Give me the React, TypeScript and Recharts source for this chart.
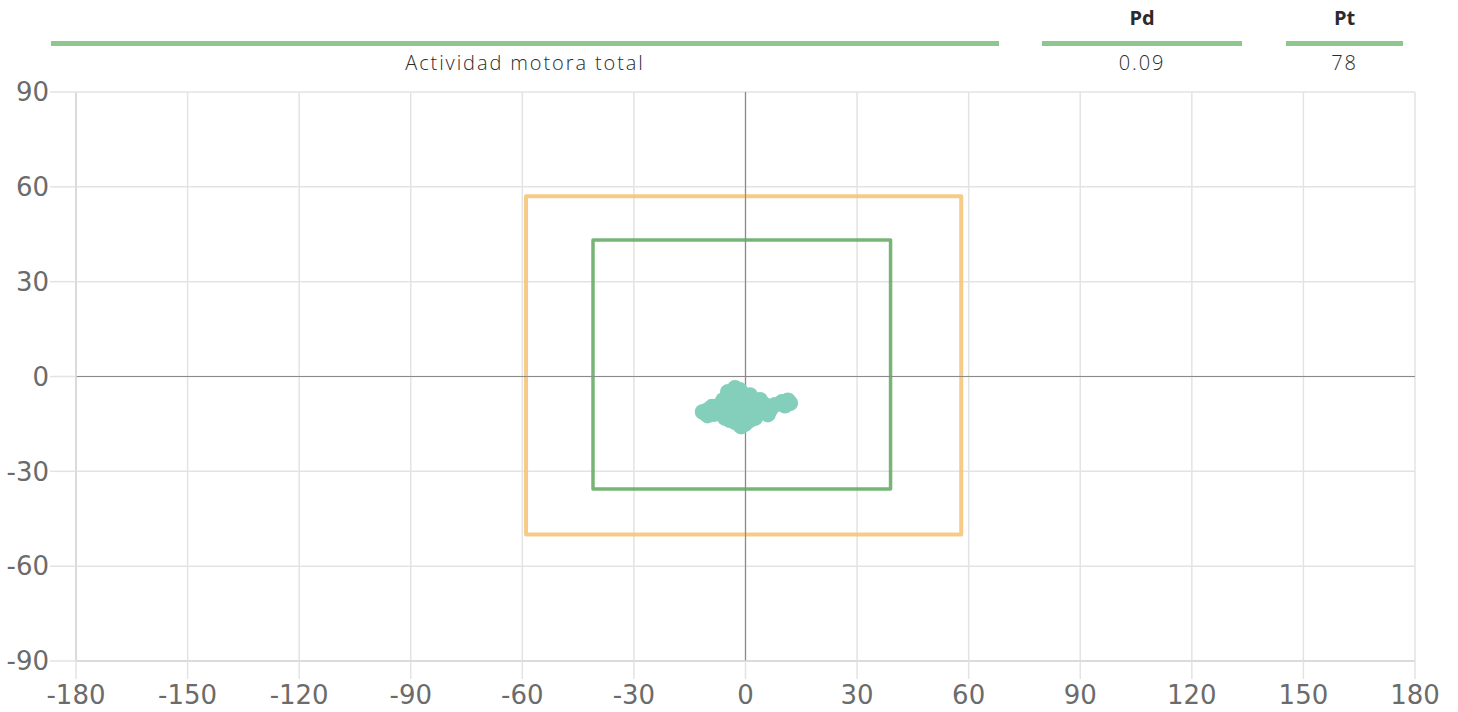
import React from "react"
import {
  ScatterChart,
  Scatter,
  XAxis,
  YAxis,
  CartesianGrid,
  ReferenceArea,
  ReferenceLine,
} from "recharts"

// ticks of both axes
const xTicks = [-180, -150, -120, -90, -60, -30, 0, 30, 60, 90, 120, 150, 180]
const yTicks = [-90, -60, -30, 0, 30, 60, 90]

// header table
const headerTitle = "Actividad motora total"
const pdValue = "0.09"
const ptValue = "78"

// outer (orange) and inner (green) limit boxes: [x1, x2, y1, y2]
const outerBox = [-59, 58, -50, 57]
const innerBox = [-41, 39, -35.6, 43.2]

// measured points (the teal cloud)
const points = [
  { x: -11.5, y: -11.2 }, { x: -10.1, y: -10.6 }, { x: -8.5, y: -11.9 }, { x: -10.2, y: -12.3 },
  { x: -9.0, y: -9.6 }, { x: -6.9, y: -9.0 }, { x: -5.5, y: -13.1 },
  { x: -4.7, y: -4.9 }, { x: -2.8, y: -3.6 }, { x: -1.5, y: -4.3 }, { x: -3.4, y: -6.2 },
  { x: -0.9, y: -6.2 }, { x: -5.5, y: -9.0 }, { x: -2.8, y: -9.0 }, { x: -0.1, y: -9.0 },
  { x: 2.6, y: -9.0 }, { x: 5.2, y: -9.0 }, { x: 7.9, y: -9.0 }, { x: -6.9, y: -11.2 },
  { x: -4.2, y: -11.9 }, { x: -1.5, y: -11.9 }, { x: 1.2, y: -11.2 }, { x: 3.9, y: -10.6 },
  { x: 6.6, y: -10.6 }, { x: -2.8, y: -14.4 }, { x: -0.1, y: -15.0 }, { x: -1.2, y: -15.8 },
  { x: 1.2, y: -13.8 }, { x: -4.2, y: -13.8 }, { x: 2.6, y: -13.1 }, { x: 6.0, y: -12.0 },
  { x: 1.2, y: -5.9 }, { x: 3.9, y: -7.4 }, { x: -6.0, y: -7.5 },
  { x: 9.8, y: -8.1 }, { x: 11.4, y: -7.6 }, { x: 12.0, y: -8.4 }, { x: 10.6, y: -9.2 },
]

const gridColor = "#e3e3e3"
const tickStyle = { fontSize: 26, fill: "#6b6b6b", fontFamily: "DejaVu Sans" }

const Dot = (props: any) => <circle cx={props.cx} cy={props.cy} r={8} fill="#84cfbb" />

export default function App() {
  const cellText: React.CSSProperties = {
    position: "absolute",
    fontFamily: "'Open Sans', sans-serif",
    fontSize: 20,
    color: "#2b2b2b",
    textAlign: "center",
    lineHeight: "24px",
  }
  const bar: React.CSSProperties = { position: "absolute", top: 41, height: 5, background: "#8fc68f" }
  const valueText: React.CSSProperties = { ...cellText, top: 51, fontWeight: 300, letterSpacing: 1.9 }

  return (
    <div style={{ position: "absolute", left: 0, top: 0, width: 1458, height: 712, background: "#fff" }}>
      {/* header */}
      <div style={{ ...cellText, left: 1042, width: 200, top: 6, fontWeight: 700 }}>Pd</div>
      <div style={{ ...cellText, left: 1286, width: 117, top: 6, fontWeight: 700 }}>Pt</div>
      <div style={{ ...bar, left: 51, width: 948 }} />
      <div style={{ ...bar, left: 1042, width: 200 }} />
      <div style={{ ...bar, left: 1286, width: 117 }} />
      <div style={{ ...valueText, left: 51, width: 948 }}>{headerTitle}</div>
      <div style={{ ...valueText, left: 1042, width: 200 }}>{pdValue}</div>
      <div style={{ ...valueText, left: 1286, width: 117 }}>{ptValue}</div>

      <ScatterChart
        width={1458}
        height={712}
        margin={{ top: 92, right: 43, left: 0, bottom: 0 }}
        style={{ position: "absolute", left: 0, top: 0 }}
      >
        <CartesianGrid stroke={gridColor} strokeWidth={1.5} />
        <XAxis
          type="number"
          dataKey="x"
          domain={[-180, 180]}
          ticks={xTicks}
          interval={0}
          height={51}
          tick={tickStyle}
          tickSize={18}
          tickMargin={7}
          tickLine={{ stroke: gridColor, strokeWidth: 1.5 }}
          axisLine={{ stroke: "#d6d6d6", strokeWidth: 1.5 }}
        />
        <YAxis
          type="number"
          dataKey="y"
          domain={[-90, 90]}
          ticks={yTicks}
          interval={0}
          width={76}
          tick={tickStyle}
          tickSize={26}
          tickMargin={1}
          tickLine={{ stroke: gridColor, strokeWidth: 1.5 }}
          axisLine={{ stroke: "#d6d6d6", strokeWidth: 1.5 }}
        />
        <ReferenceLine x={0} stroke="#8a8a8a" strokeWidth={1.2} />
        <ReferenceLine y={0} stroke="#8a8a8a" strokeWidth={1.2} />
        <ReferenceArea
          x1={outerBox[0]}
          x2={outerBox[1]}
          y1={outerBox[2]}
          y2={outerBox[3]}
          fill="none"
          stroke="#f6c57a"
          strokeOpacity={0.9}
          strokeWidth={4}
          strokeLinejoin="round"
          ifOverflow="visible"
        />
        <ReferenceArea
          x1={innerBox[0]}
          x2={innerBox[1]}
          y1={innerBox[2]}
          y2={innerBox[3]}
          fill="none"
          stroke="#5fa85f"
          strokeOpacity={0.85}
          strokeWidth={3.5}
          strokeLinejoin="round"
          ifOverflow="visible"
        />
        <Scatter data={points} fill="#84cfbb" shape={Dot} isAnimationActive={false} />
      </ScatterChart>
    </div>
  )
}
